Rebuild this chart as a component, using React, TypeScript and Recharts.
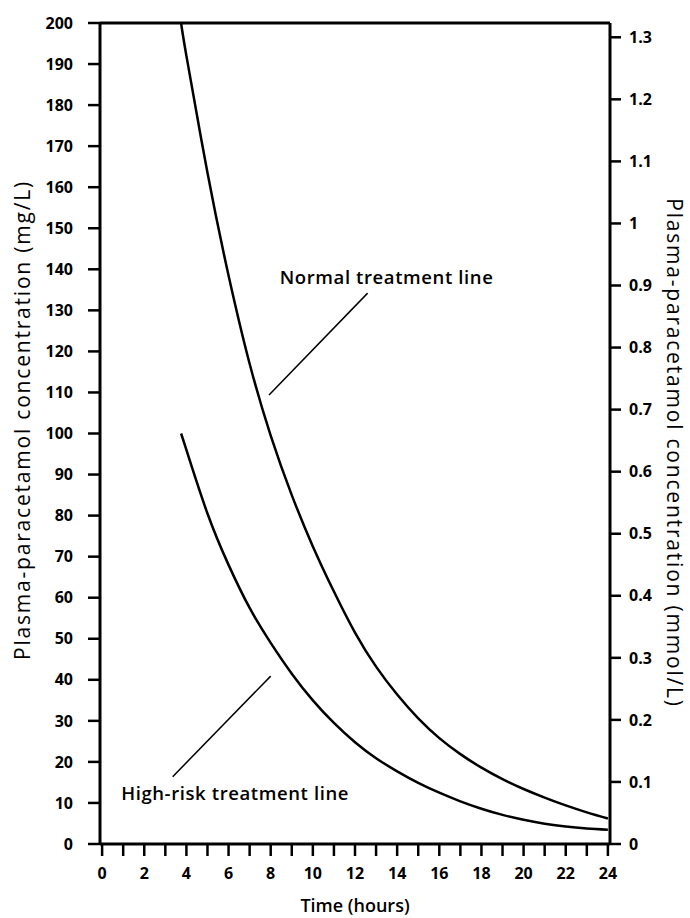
import { Label, Line, LineChart, ReferenceDot, ReferenceLine, XAxis, YAxis } from 'recharts'

// time after ingestion (hours) and plasma paracetamol (mg/L)
const hours = [3.75, 4, 5, 6, 7, 8, 9, 10, 11, 12, 13, 14, 15, 16, 17, 18, 19, 20, 21, 22, 23, 24]
const normalLine = [200, 192, 163.5, 138.5, 117, 99.5, 85, 72.5, 61.5, 51.5, 43.2, 36.4, 30.6, 25.8, 21.9, 18.6, 15.8, 13.4, 11.3, 9.4, 7.7, 6.2]
const highRiskLine = [100, 96, 80.5, 68, 57.5, 49, 41.5, 35, 29.5, 24.8, 20.9, 17.7, 14.9, 12.5, 10.4, 8.6, 7.1, 5.9, 4.95, 4.25, 3.8, 3.5]

const hourTicks = [0, 1, 2, 3, 4, 5, 6, 7, 8, 9, 10, 11, 12, 13, 14, 15, 16, 17, 18, 19, 20, 21, 22, 23, 24]
const mgTicks = [0, 10, 20, 30, 40, 50, 60, 70, 80, 90, 100, 110, 120, 130, 140, 150, 160, 170, 180, 190, 200]
const mmolTicks = [0, 0.1, 0.2, 0.3, 0.4, 0.5, 0.6, 0.7, 0.8, 0.9, 1, 1.1, 1.2, 1.3]
const MG_PER_MMOL = 151.17

const data = hours.map((t, i) => ({
    t,
    normal: normalLine[i],
    highRisk: highRiskLine[i],
    normalMmol: normalLine[i] / MG_PER_MMOL,
}))

const FONT = '"Open Sans", "DejaVu Sans", sans-serif'
const tickStyle = { fill: '#000', fontSize: 16, fontWeight: 700, fontFamily: FONT }
const noteStyle = { fill: '#000', fontSize: 18.5, fontWeight: 600, fontFamily: FONT, letterSpacing: 0.6 }

// axis title drawn relative to the axis' own box
const axisTitle =
    (text: string, ox: number | null, oy: number | null, angle: number, style: any) => (props: any) => {
        const vb = props.viewBox || { x: 0, y: 0, width: 0, height: 0 }
        const x = vb.x + (ox === null ? vb.width / 2 : ox)
        const y = vb.y + (oy === null ? vb.height / 2 : oy)
        return (
            <text
                x={x}
                y={y}
                transform={angle ? `rotate(${angle} ${x} ${y})` : undefined}
                textAnchor="middle"
                dominantBaseline="central"
                style={style}
            >
                {text}
            </text>
        )
    }

const sideTitle = { fill: '#000', fontSize: 21, fontWeight: 400, fontFamily: FONT, letterSpacing: 1.8 }
const timeTitle = { fill: '#000', fontSize: 18, fontWeight: 600, fontFamily: FONT }

export default function App() {
    return (
        <div style={{ position: 'absolute', left: 0, top: 0, width: 690, height: 918, background: '#fff' }}>
            <LineChart width={690} height={918} data={data} margin={{ top: 23, right: 0, bottom: 0, left: 0 }}>
                <XAxis
                    dataKey="t"
                    type="number"
                    domain={[-0.1, 24.1]}
                    ticks={hourTicks}
                    interval={0}
                    height={74}
                    tickSize={12}
                    tickMargin={12}
                    tick={tickStyle}
                    tickFormatter={(v: number) => (v % 2 === 0 ? String(v) : '')}
                    axisLine={{ stroke: '#000', strokeWidth: 3 }}
                    tickLine={{ stroke: '#000', strokeWidth: 2.5 }}
                >
                    <Label content={axisTitle('Time (hours)', null, 61, 0, timeTitle)} />
                </XAxis>
                <YAxis
                    yAxisId="left"
                    domain={[0, 200]}
                    ticks={mgTicks}
                    interval={0}
                    width={100}
                    tickSize={12}
                    tickMargin={15}
                    tick={tickStyle}
                    axisLine={{ stroke: '#000', strokeWidth: 3 }}
                    tickLine={{ stroke: '#000', strokeWidth: 2.5 }}
                >
                    <Label content={axisTitle('Plasma-paracetamol concentration (mg/L)', 22, 397, -90, sideTitle)} />
                </YAxis>
                <YAxis
                    yAxisId="right"
                    orientation="right"
                    domain={[0, 200 / MG_PER_MMOL]}
                    allowDataOverflow
                    ticks={mmolTicks}
                    interval={0}
                    width={80}
                    tickSize={11}
                    tickMargin={8}
                    tick={tickStyle}
                    tickFormatter={(v: number) => String(Number(v.toFixed(1)))}
                    axisLine={{ stroke: '#000', strokeWidth: 3 }}
                    tickLine={{ stroke: '#000', strokeWidth: 2.5 }}
                >
                    <Label content={axisTitle('Plasma-paracetamol concentration (mmol/L)', 65, 430, 90, sideTitle)} />
                </YAxis>
                <ReferenceLine yAxisId="left" y={200} stroke="#000" strokeWidth={3} />
                <Line
                    yAxisId="right"
                    dataKey="normalMmol"
                    type="natural"
                    stroke="none"
                    dot={false}
                    activeDot={false}
                    isAnimationActive={false}
                />
                <Line
                    yAxisId="left"
                    dataKey="normal"
                    type="natural"
                    stroke="#000"
                    strokeWidth={2.5}
                    dot={false}
                    isAnimationActive={false}
                />
                <Line
                    yAxisId="left"
                    dataKey="highRisk"
                    type="natural"
                    stroke="#000"
                    strokeWidth={2.5}
                    dot={false}
                    isAnimationActive={false}
                />
                <ReferenceLine
                    yAxisId="left"
                    segment={[{ x: 7.92, y: 109.4 }, { x: 12.6, y: 134.2 }]}
                    stroke="#000"
                    strokeWidth={1.5}
                />
                <ReferenceLine
                    yAxisId="left"
                    segment={[{ x: 3.35, y: 16.4 }, { x: 8.0, y: 40.9 }]}
                    stroke="#000"
                    strokeWidth={1.5}
                />
                <ReferenceDot
                    yAxisId="left"
                    x={13.5}
                    y={138.1}
                    r={0}
                    fill="none"
                    stroke="none"
                    label={{ value: 'Normal treatment line', position: 'center', ...noteStyle }}
                />
                <ReferenceDot
                    yAxisId="left"
                    x={6.31}
                    y={12.2}
                    r={0}
                    fill="none"
                    stroke="none"
                    label={{ value: 'High-risk treatment line', position: 'center', ...noteStyle }}
                />
            </LineChart>
        </div>
    )
}
